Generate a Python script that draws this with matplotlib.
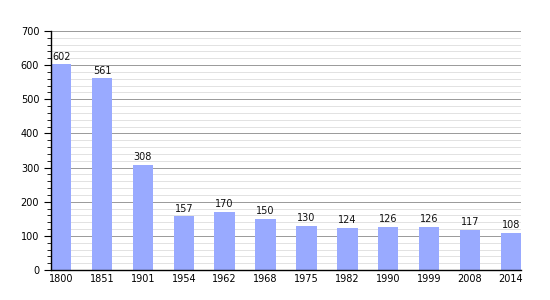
import matplotlib
matplotlib.use("Agg")
import matplotlib.pyplot as plt
from matplotlib.ticker import MultipleLocator

years = ["1800", "1851", "1901", "1954", "1962", "1968", "1975", "1982", "1990", "1999", "2008", "2014"]
population = [602, 561, 308, 157, 170, 150, 130, 124, 126, 126, 117, 108]

fig = plt.figure(figsize=(5.5, 3), dpi=100)
ax = fig.add_axes([51/550, 30/300, 470/550, 239/300])

x = list(range(len(years)))
ax.bar(x, population, width=0.5, color="#99aaff", zorder=2)
for xi, v in zip(x, population):
    ax.text(xi, v + 8, str(v), ha="center", va="bottom", fontsize=7, color="#111111", zorder=3)

ax.set_xlim(-0.25, len(years) - 0.75)
ax.set_ylim(0, 700)
ax.set_xticks(x)
ax.set_xticklabels(years, fontsize=7)
ax.yaxis.set_major_locator(MultipleLocator(100))
ax.yaxis.set_minor_locator(MultipleLocator(20))
ax.tick_params(axis="y", labelsize=7, length=5, width=0.8, direction="out")
ax.tick_params(axis="y", which="minor", length=3, width=0.6)
ax.tick_params(axis="x", length=0, pad=3)
ax.grid(axis="y", which="major", color="#999999", linewidth=0.7, zorder=0)
ax.grid(axis="y", which="minor", color="#dddddd", linewidth=0.6, zorder=0)
for s in ["top", "right"]:
    ax.spines[s].set_visible(False)
ax.spines["left"].set_linewidth(1)
ax.spines["bottom"].set_linewidth(1)

fig.savefig("out.png", dpi=100)
